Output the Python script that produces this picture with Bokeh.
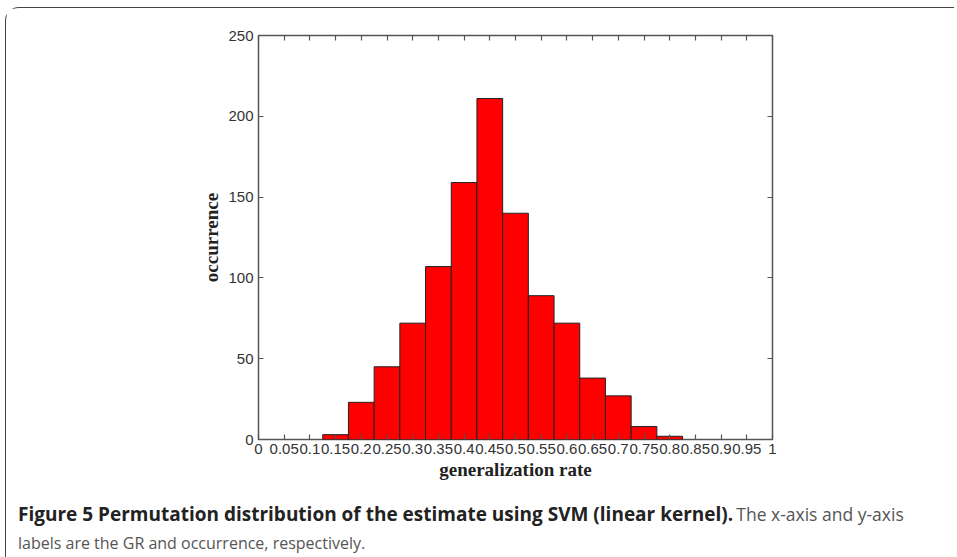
from bokeh.plotting import figure
from bokeh.models import Range1d, FixedTicker, LinearAxis, Div
from bokeh.layouts import column
from bokeh.embed import file_html
from bokeh.resources import INLINE

# ---- data ----
bin_centers = [0.15, 0.20, 0.25, 0.30, 0.35, 0.40, 0.45, 0.50, 0.55, 0.60, 0.65, 0.70, 0.75, 0.80]
occurrence = [3, 23, 45, 72, 107, 159, 211, 140, 89, 72, 38, 27, 8, 2]
bin_width = 0.05
x_ticks = [0, 0.05, 0.1, 0.15, 0.2, 0.25, 0.3, 0.35, 0.4, 0.45, 0.5, 0.55, 0.6, 0.65, 0.7, 0.75, 0.8, 0.85, 0.9, 0.95, 1]
x_tick_labels = ["0", "0.05", "0.1", "0.15", "0.2", "0.25", "0.3", "0.35", "0.4", "0.45", "0.5",
                 "0.55", "0.6", "0.65", "0.7", "0.75", "0.8", "0.85", "0.9", "0.95", "1"]
y_ticks = [0, 50, 100, 150, 200, 250]
x_title = "generalization rate"
y_title = "occurrence"
caption_bold = "Figure 5 Permutation distribution of the estimate using SVM (linear kernel)."
caption_rest1 = "The x-axis and y-axis"
caption_rest2 = "labels are the GR and occurrence, respectively."

W = 948
H_PLOT = 480

p = figure(width=W, height=H_PLOT, output_backend="svg", toolbar_location=None,
           x_range=Range1d(0, 1), y_range=Range1d(0, 250),
           min_border_left=252, min_border_right=W - 766, min_border_top=27,
           min_border_bottom=H_PLOT - 431)
p.background_fill_color = "white"
p.border_fill_color = "white"
p.outline_line_color = "#555555"
p.outline_line_width = 1.5
p.grid.visible = False

p.vbar(x=bin_centers, width=bin_width, top=occurrence, bottom=0,
       fill_color="#ff0000", line_color="#222222", line_width=1)

overrides = {t: l for t, l in zip(x_ticks, x_tick_labels)}

def style_axis(ax, show_labels):
    ax.axis_line_color = None
    ax.major_tick_in = 5
    ax.major_tick_out = 0
    ax.minor_tick_in = 0
    ax.minor_tick_out = 0
    ax.major_tick_line_color = "#555555"
    ax.major_tick_line_width = 1.2
    ax.major_label_text_font = "Liberation Sans"
    ax.major_label_text_font_size = "15px"
    ax.major_label_text_color = "#333333"
    if not show_labels:
        ax.major_label_text_font_size = "0px"
        ax.major_label_text_alpha = 0

xa = p.xaxis[0]
xa.ticker = FixedTicker(ticks=x_ticks)
xa.major_label_overrides = overrides
style_axis(xa, True)
xa.major_label_standoff = 4
xa.axis_label = x_title
xa.axis_label_text_font = "Liberation Serif"
xa.axis_label_text_font_style = "bold"
xa.axis_label_text_font_size = "19px"
xa.axis_label_text_color = "#222222"
xa.axis_label_standoff = 2

ya = p.yaxis[0]
ya.ticker = FixedTicker(ticks=y_ticks)
style_axis(ya, True)
ya.major_label_standoff = 5
ya.axis_label = y_title
ya.axis_label_text_font = "Liberation Serif"
ya.axis_label_text_font_style = "bold"
ya.axis_label_text_font_size = "19px"
ya.axis_label_text_color = "#222222"
ya.axis_label_standoff = 3

top_ax = LinearAxis(ticker=FixedTicker(ticks=x_ticks))
style_axis(top_ax, False)
p.add_layout(top_ax, "above")
right_ax = LinearAxis(ticker=FixedTicker(ticks=y_ticks))
style_axis(right_ax, False)
p.add_layout(right_ax, "right")

caption_html = (
    '<span style="font-weight:700;font-size:19px;color:#222222">' + caption_bold + '</span> '
    '<span style="font-size:17.5px;color:#555555">' + caption_rest1 + '</span><br>'
    '<span style="font-size:16px;color:#555555">' + caption_rest2 + '</span>'
)
cap = Div(text=caption_html, width=W - 20, height=62,
          styles={"font-family": "Open Sans", "line-height": "26px", "white-space": "nowrap",
                  "padding-left": "7px", "padding-top": "8px"})

layout = column(p, cap, spacing=0)
layout.styles = {"border-left": "1.5px solid #444", "border-top": "1.5px solid #444",
                 "border-top-left-radius": "14px", "margin-left": "5px", "margin-top": "7px"}

open("out.html", "w").write(file_html(layout, INLINE))
